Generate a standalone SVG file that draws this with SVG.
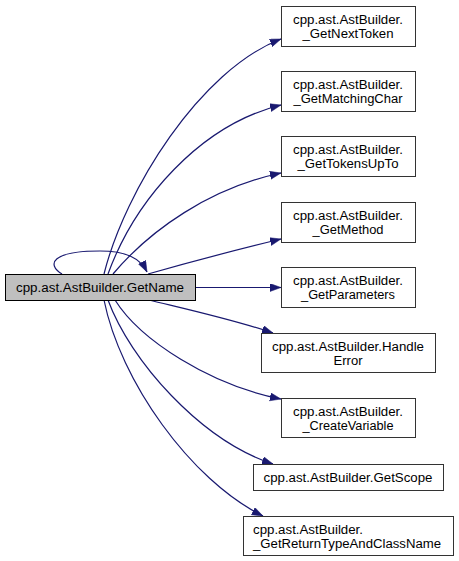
<svg xmlns="http://www.w3.org/2000/svg" width="459" height="561" viewBox="0 0 459 561">
<style>
.n rect{fill:#ffffff;stroke:#333333;stroke-width:1}
.m rect{fill:#bfbfbf;stroke:#000000;stroke-width:1}
text{font-family:"Liberation Sans",Arial,sans-serif;font-size:12px;fill:#000000}
.c{text-anchor:middle}
.e path{fill:none;stroke:#191970;stroke-width:1.2}
</style>
<defs>
<marker id="ah" markerUnits="userSpaceOnUse" markerWidth="12" markerHeight="9" refX="11" refY="4" orient="auto">
<path d="M0,0 L11,4 L0,8 z" fill="#191970" stroke="#191970" stroke-width="0.5"/>
</marker>
</defs>
<rect width="459" height="561" fill="#ffffff"/>
<g class="e" id="edges">
<path marker-end="url(#ah)" d="M62,274 C46,264 52,251 100,251 C126,251 140,258 147,272"/>
<path marker-end="url(#ah)" d="M104,274 C125,190 200,70 281,39"/>
<path marker-end="url(#ah)" d="M108,274 C135,200 200,125 281,105"/>
<path marker-end="url(#ah)" d="M113,274 C150,230 210,188 281,173"/>
<path marker-end="url(#ah)" d="M148,274 C190,262 240,249 281,239"/>
<path marker-end="url(#ah)" d="M195,287.5 L281,287.5"/>
<path marker-end="url(#ah)" d="M149,300 C190,310 235,320 273,333"/>
<path marker-end="url(#ah)" d="M115,300 C140,340 210,385 281,399"/>
<path marker-end="url(#ah)" d="M108,300 C130,360 200,440 273,464"/>
<path marker-end="url(#ah)" d="M104,300 C120,380 190,480 263,516"/>
</g>
<g class="m" id="node_GetName">
<rect x="5.5" y="274.5" width="190" height="26"/>
<text class="c" x="100" y="291.5" textLength="168" lengthAdjust="spacingAndGlyphs">cpp.ast.AstBuilder.GetName</text>
</g>
<g class="n" id="node_GetNextToken">
<rect x="281.5" y="6.5" width="134" height="40"/>
<text class="c" x="348" y="23.5" textLength="110" lengthAdjust="spacingAndGlyphs">cpp.ast.AstBuilder.</text>
<text class="c" x="348" y="37.5" textLength="91" lengthAdjust="spacingAndGlyphs">_GetNextToken</text>
</g>
<g class="n" id="node_GetMatchingChar">
<rect x="281.5" y="71.5" width="134" height="40"/>
<text class="c" x="348" y="88.5" textLength="110" lengthAdjust="spacingAndGlyphs">cpp.ast.AstBuilder.</text>
<text class="c" x="348" y="102.5" textLength="109" lengthAdjust="spacingAndGlyphs">_GetMatchingChar</text>
</g>
<g class="n" id="node_GetTokensUpTo">
<rect x="281.5" y="136.5" width="134" height="40"/>
<text class="c" x="348" y="153.5" textLength="110" lengthAdjust="spacingAndGlyphs">cpp.ast.AstBuilder.</text>
<text class="c" x="348" y="167.5" textLength="101" lengthAdjust="spacingAndGlyphs">_GetTokensUpTo</text>
</g>
<g class="n" id="node_GetMethod">
<rect x="281.5" y="202.5" width="134" height="40"/>
<text class="c" x="348" y="219.5" textLength="110" lengthAdjust="spacingAndGlyphs">cpp.ast.AstBuilder.</text>
<text class="c" x="348" y="233.5" textLength="71" lengthAdjust="spacingAndGlyphs">_GetMethod</text>
</g>
<g class="n" id="node_GetParameters">
<rect x="281.5" y="267.5" width="134" height="40"/>
<text class="c" x="348" y="284.5" textLength="110" lengthAdjust="spacingAndGlyphs">cpp.ast.AstBuilder.</text>
<text class="c" x="348" y="298.5" textLength="94" lengthAdjust="spacingAndGlyphs">_GetParameters</text>
</g>
<g class="n" id="node_HandleError">
<rect x="261.5" y="333.5" width="174" height="39"/>
<text class="c" x="348" y="350.5" textLength="152" lengthAdjust="spacingAndGlyphs">cpp.ast.AstBuilder.Handle</text>
<text class="c" x="348" y="364.5" textLength="29" lengthAdjust="spacingAndGlyphs">Error</text>
</g>
<g class="n" id="node_CreateVariable">
<rect x="281.5" y="398.5" width="134" height="39"/>
<text class="c" x="348" y="415.5" textLength="110" lengthAdjust="spacingAndGlyphs">cpp.ast.AstBuilder.</text>
<text class="c" x="348" y="429.5" textLength="91" lengthAdjust="spacingAndGlyphs">_CreateVariable</text>
</g>
<g class="n" id="node_GetScope">
<rect x="253.5" y="464.5" width="190" height="26"/>
<text class="c" x="348" y="481.5" textLength="169" lengthAdjust="spacingAndGlyphs">cpp.ast.AstBuilder.GetScope</text>
</g>
<g class="n" id="node_GetReturnTypeAndClassName">
<rect x="243.5" y="516.5" width="210" height="39"/>
<text x="253" y="533.5" textLength="110" lengthAdjust="spacingAndGlyphs">cpp.ast.AstBuilder.</text>
<text x="253" y="547.5" textLength="188" lengthAdjust="spacingAndGlyphs">_GetReturnTypeAndClassName</text>
</g>
</svg>
